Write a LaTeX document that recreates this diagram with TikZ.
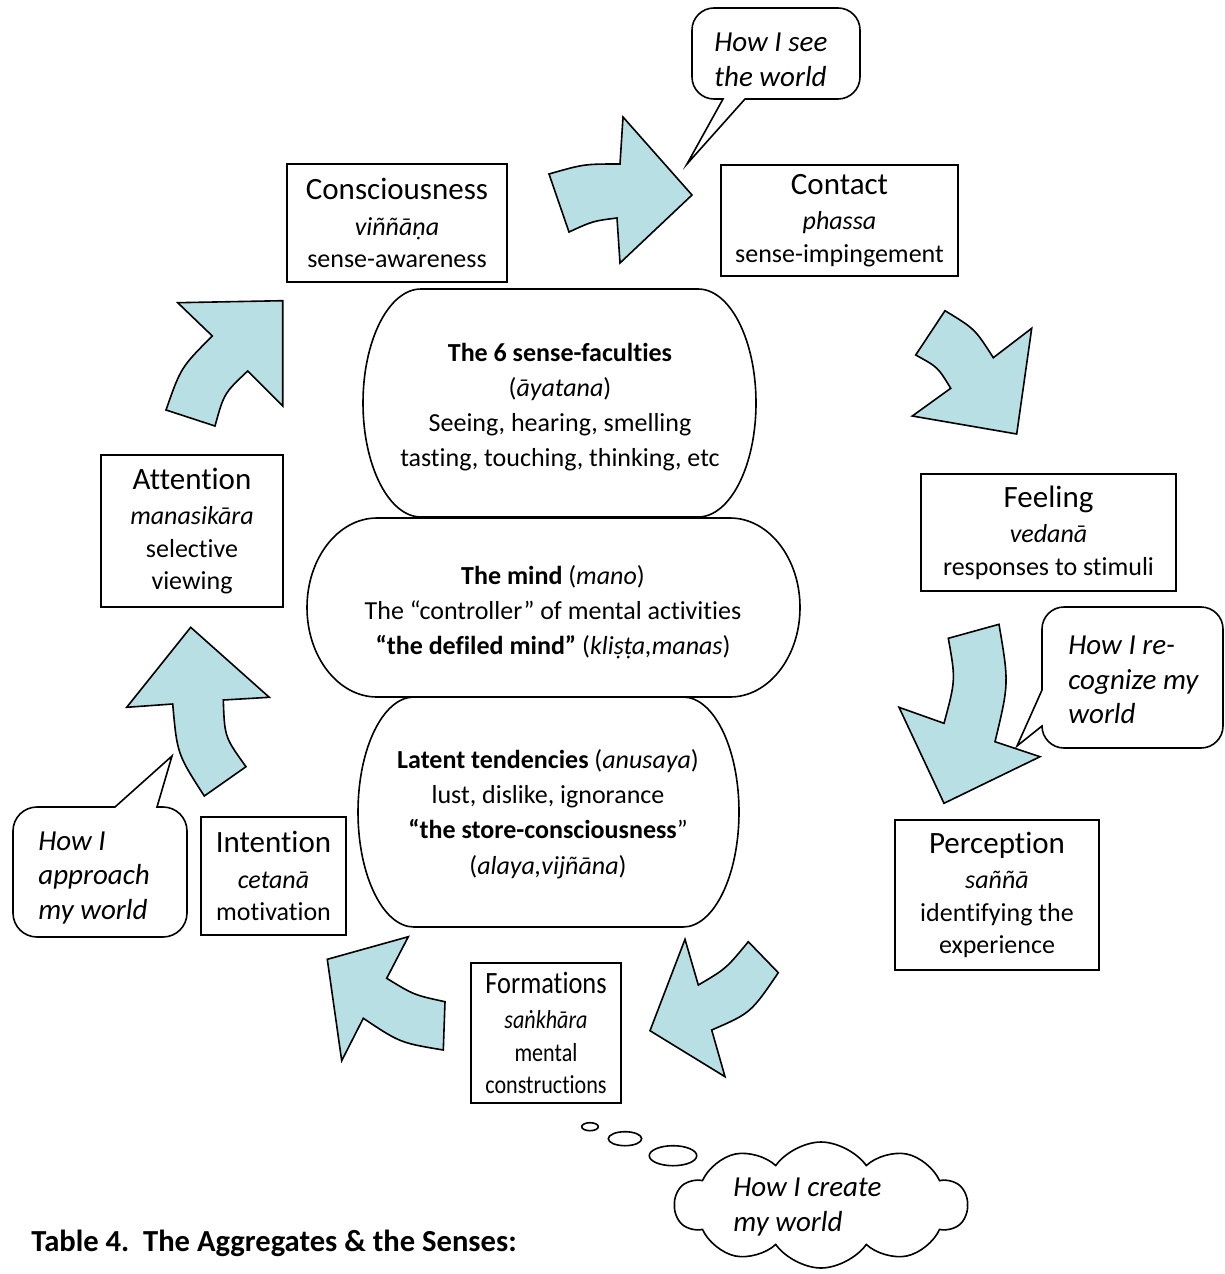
\documentclass[tikz,border=0pt]{standalone}
\usepackage{fontspec}
\setmainfont{Carlito}[Ligatures={NoCommon}]
\newfontfamily\condensedfam{Carlito}[Ligatures={NoCommon}, FakeStretch=0.85]
\usetikzlibrary{shapes.symbols}
\definecolor{arrowfill}{RGB}{184,223,227}
\newcommand\boxtitle[1]{{\fontsize{15.5}{18}\selectfont #1}}
\begin{document}
\begin{tikzpicture}[x=0.5pt,y=-0.5pt,
  box/.style={draw, line width=1pt, fill=white, align=center, inner sep=0pt, font=\fontsize{13}{16.2}\selectfont},
  core/.style={draw, line width=0.8pt, fill=white},
  coretext/.style={align=center, inner sep=0pt, font=\fontsize{13}{17.6}\selectfont},
  bigarrow/.style={draw, line width=0.8pt, fill=arrowfill, line join=miter},
  callout/.style={draw, line width=0.8pt, fill=white, line join=miter},
  calltext/.style={align=left, anchor=west, inner sep=0pt, font=\fontsize{14.5}{17.3}\selectfont\itshape},
  bubble/.style={draw, line width=0.8pt, fill=white},
]
\useasboundingbox (0,0) rectangle (1225,1274);

% central shapes
\draw[core] (421,289) -- (698,289) arc[start angle=-90,end angle=90,x radius=58,y radius=114] -- (421,517) arc[start angle=90,end angle=270,x radius=58,y radius=114] -- cycle;
\draw[core] (377,518) -- (730,518) arc[start angle=-90,end angle=90,x radius=70,y radius=89.5] -- (377,697) arc[start angle=90,end angle=270,x radius=70,y radius=89.5] -- cycle;
\draw[core] (414,697) -- (683,697) arc[start angle=-90,end angle=90,x radius=56,y radius=115] -- (414,927) arc[start angle=90,end angle=270,x radius=56,y radius=115] -- cycle;

\node[coretext] (sense) at (560,407) {\textbf{The 6 sense-faculties}\\(\textit{āyatana})\\Seeing, hearing, smelling\\tasting, touching, thinking, etc};
\node[coretext] (mind) at (553,612) {\textbf{The mind} (\textit{mano})\\The “controller” of mental activities\\\textbf{“the defiled mind”} (\textit{kliṣṭa,manas})};
\node[coretext] (latent) at (548,814) {\textbf{Latent tendencies} (\textit{anusaya})\\lust, dislike, ignorance\\\textbf{“the store-consciousness}”\\(\textit{alaya,vijñāna})};

% boxes
\node[box, minimum width=110pt, minimum height=59pt] (cons) at (397,223) {\boxtitle{Consciousness}\\[1.6pt]\textit{viññāṇa}\\sense-awareness};
\node[box, minimum width=118.5pt, minimum height=55.5pt] (cont) at (839.5,220.5) {\boxtitle{Contact}\\[1.6pt]\textit{phassa}\\sense-impingement};
\node[box, minimum width=127.5pt, minimum height=58.5pt] (feel) at (1048.5,532.5) {\boxtitle{Feeling}\\[1.6pt]\textit{vedanā}\\responses to stimuli};
\node[box, minimum width=102pt, minimum height=75pt] (perc) at (997,895) {\boxtitle{Perception}\\[1.6pt]\textit{saññā}\\identifying the\\experience};
\node[box, minimum width=75pt, minimum height=70pt, font=\condensedfam\fontsize{13}{16.2}\selectfont] (form) at (546,1033) {\boxtitle{Formations}\\[1.6pt]\textit{saṅkhāra}\\mental\\constructions};
\node[box, minimum width=72.5pt, minimum height=59pt] (inte) at (273.5,876) {\boxtitle{Intention}\\[1.6pt]\textit{cetanā}\\motivation};
\node[box, minimum width=91pt, minimum height=76pt] (atte) at (192,531) {\boxtitle{Attention}\\[1.6pt]\textit{manasikāra}\\selective\\viewing};

% curved block arrows
\draw[bigarrow] (549,174) .. controls (584,164) .. (620,164) -- (623,117) -- (692,195) -- (620,263) -- (617,218) .. controls (593,221) .. (569,232) -- cycle;
\draw[bigarrow] (945,310.7) .. controls (974.9,328.9) .. (993.3,357.7) -- (1031.7,328.3) -- (1016.7,434) -- (912.3,416) -- (950.7,388.3) .. controls (937.9,367.2) .. (915.7,355) -- cycle;
\draw[bigarrow] (948.3,638.3) .. controls (955.7,679.7) .. (944,723.3) -- (899,707.3) -- (944,803.3) -- (1040,756.7) -- (995,741.7) .. controls (1009,683.4) .. (999,624.3) -- cycle;
\draw[bigarrow] (685,939.3) -- (698.3,985) .. controls (726,968.7) .. (748.3,941.7) -- (778.3,972.7) .. controls (750.8,1013) .. (711.7,1030) -- (725,1076.7) -- (650,1030.7) -- cycle;
\draw[bigarrow] (408.3,936.7) -- (327.3,959.3) -- (341.7,1060.7) -- (363.3,1018.3) .. controls (400.1,1042.8) .. (443.3,1050) -- (445,1001.7) .. controls (414,995) .. (386.7,978.3) -- cycle;
\draw[bigarrow] (190.7,627.3) -- (269.3,697.3) -- (223.3,700) .. controls (224.6,737) .. (246,766.7) -- (204.3,796) .. controls (177.2,754) .. (172.7,704) -- (126.7,707.3) -- cycle;
\draw[bigarrow] (177.7,302.7) -- (282.7,300.7) -- (282.7,406) -- (247.7,371) .. controls (224,393.4) .. (215,426) -- (166,410) .. controls (180.9,367.4) .. (212.3,336) -- cycle;

% speech callouts
\draw[callout] (714,8) -- (838,8) arc[start angle=-90,end angle=0,radius=22] -- (860,77) arc[start angle=0,end angle=90,radius=22] -- (745,99) -- (687,164) -- (723,99) -- (714,99) arc[start angle=90,end angle=180,radius=22] -- (692,30) arc[start angle=180,end angle=270,radius=22] -- cycle;
\node[calltext] (see) at (714,60) {How I see\\the world};

\draw[callout] (1064,607) -- (1201,607) arc[start angle=-90,end angle=0,radius=22] -- (1223,726) arc[start angle=0,end angle=90,radius=22] -- (1064,748) arc[start angle=90,end angle=180,radius=22] -- (1017,746) -- (1042,690) -- (1042,629) arc[start angle=180,end angle=270,radius=22] -- cycle;
\node[calltext] (recog) at (1068,680) {How I re-\\cognize my\\world};

\draw[callout] (37,807) -- (115,807) -- (172,756) -- (157,807) -- (163,807) arc[start angle=-90,end angle=0,radius=24] -- (187,913) arc[start angle=0,end angle=90,radius=24] -- (37,937) arc[start angle=90,end angle=180,radius=24] -- (13,831) arc[start angle=180,end angle=270,radius=24] -- cycle;
\node[calltext] (appr) at (38,878) {How I\\approach\\my world};

% thought cloud
\draw[bubble] (590,1126.7) ellipse [x radius=8.3, y radius=4];
\draw[bubble] (625,1138.7) ellipse [x radius=16.7, y radius=7];
\draw[bubble] (673,1155.7) ellipse [x radius=23.7, y radius=10];
\node[cloud, draw, line width=0.8pt, fill=white, cloud puffs=10, cloud puff arc=110, aspect=2.3, minimum width=146pt, minimum height=63pt, inner sep=0pt] (createcloud) at (821,1205) {};
\node[calltext] (create) at (733,1207) {How I create\\my world};

% caption
\node[anchor=base west, inner sep=0pt, font=\fontsize{15.3}{18}\selectfont\bfseries] (caption) at (31,1251) {Table 4.\ \ The Aggregates \& the Senses:};
\end{tikzpicture}
\end{document}
